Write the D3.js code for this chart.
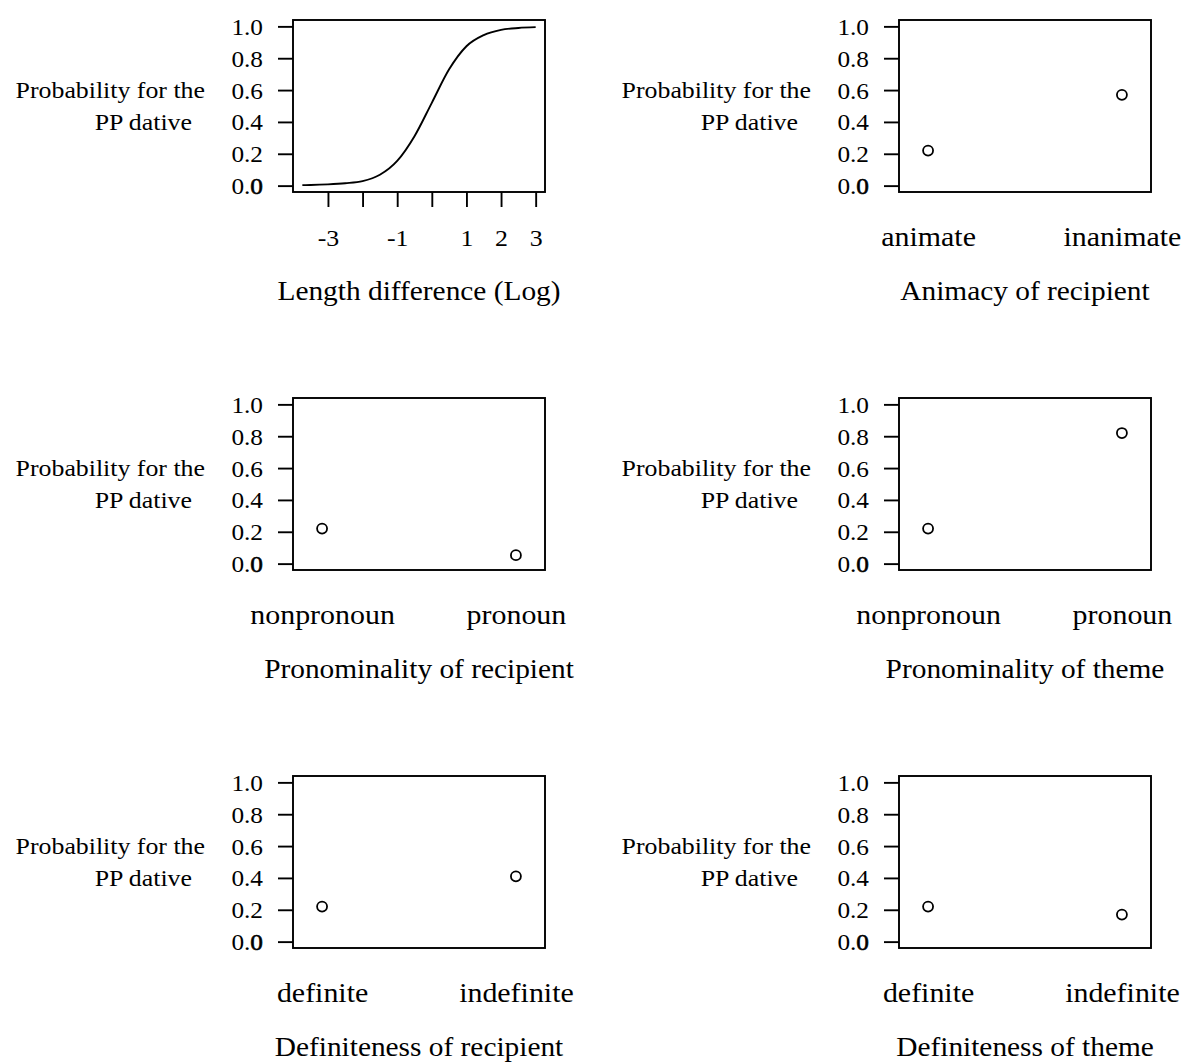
<!DOCTYPE html>
<html>
<head>
  <title>PP dative effects</title>
  <script src="https://d3js.org/d3.v7.min.js"></script>
  <style>
    body { margin: 0; background: #fff; }
    svg text { font-family: "Liberation Serif", "Times New Roman", serif; fill: #000; }
  </style>
</head>
<body>
  <script>
    // y axis ticks shared by all panels
    var yTicks = [0, 0.2, 0.4, 0.6, 0.8, 1.0];

    // panel 1: length difference curve
    var lengthX = [-3.74, -3.5, -3, -2.5, -2, -1.5, -1, -0.5, 0, 0.5, 1, 1.5, 2, 2.5, 3];
    var lengthP = [0.003, 0.004, 0.008, 0.015, 0.028, 0.068, 0.155, 0.31, 0.52, 0.73, 0.875, 0.945, 0.978, 0.99, 0.995];
    var lengthTicks = [-3, -2, -1, 0, 1, 2, 3];
    var lengthTickLabels = ["-3", "", "-1", "", "1", "2", "3"];

    // factor panels
    var animacyLevels = ["animate", "inanimate"];
    var animacyP = [0.22, 0.57];
    var pronRecLevels = ["nonpronoun", "pronoun"];
    var pronRecP = [0.22, 0.053];
    var pronThemeLevels = ["nonpronoun", "pronoun"];
    var pronThemeP = [0.22, 0.82];
    var defRecLevels = ["definite", "indefinite"];
    var defRecP = [0.22, 0.41];
    var defThemeLevels = ["definite", "indefinite"];
    var defThemeP = [0.22, 0.17];

    var yLabel = ["Probability for the", "PP dative"];

    var width = 1181, height = 1064;
    var colLeft = [293, 899], rowTop = [20, 398, 776];
    var pw = 252, ph = 172;
    var sx = 1.1; // the picture's lettering is a bit wide

    var svg = d3.select('body').append('svg')
      .attr('width', width)
      .attr('height', height);

    var y = d3.scaleLinear().domain([-0.04, 1.04]).range([ph, 0]);

    // text placed at (x, y), widened horizontally around its anchor
    function label(parent, x, yy, s, anchor, size) {
      return parent.append('text')
        .attr('transform', 'translate(' + x + ',' + yy + ') scale(' + sx + ',1)')
        .attr('text-anchor', anchor).attr('dy', '0.35em')
        .style('font-size', size + 'px')
        .text(s);
    }

    // restyle the labels an axis made: move position into a transform
    function widen(sel, size, dx, dy) {
      sel.attr('font-size', null).attr('font-family', null)
        .style('font-size', size + 'px')
        .attr('x', 0).attr('y', 0).attr('dy', '0.35em')
        .attr('transform', 'translate(' + dx + ',' + dy + ') scale(' + sx + ',1)');
    }

    function panel(col, row, title) {
      var g = svg.append('g')
        .attr('transform', 'translate(' + colLeft[col] + ',' + rowTop[row] + ')');

      // y axis
      var ya = g.append('g').call(d3.axisLeft(y)
        .tickValues(yTicks).tickFormat(d3.format('.1f'))
        .tickSize(15).tickPadding(15));
      ya.select('.domain').remove();
      ya.selectAll('line').attr('stroke', '#000').attr('stroke-width', 1.9);
      widen(ya.selectAll('text'), 23, -30, 0);
      // R overprints the zero label
      ya.selectAll('.tick').filter(function(d) { return d === 0; }).select('text')
        .text('0.').append('tspan').text('0').attr('stroke', '#000').attr('stroke-width', 0.6);

      // y title, two lines
      label(g, -88, y(0.6), yLabel[0], 'end', 23.5);
      label(g, -101, y(0.4), yLabel[1], 'end', 23.5);

      // x title
      label(g, pw / 2, ph + 99, title, 'middle', 26.7);

      // box
      g.append('rect').attr('width', pw).attr('height', ph)
        .attr('fill', 'none').attr('stroke', '#000').attr('stroke-width', 1.9);
      return g;
    }

    // panel 1: continuous predictor
    (function() {
      var g = panel(0, 0, 'Length difference (Log)');
      var ext = d3.extent(lengthX), pad = 0.04 * (ext[1] - ext[0]);
      var x = d3.scaleLinear().domain([ext[0] - pad, ext[1] + pad]).range([0, pw]);

      var xa = g.append('g').attr('transform', 'translate(0,' + ph + ')')
        .call(d3.axisBottom(x).tickValues(lengthTicks)
          .tickFormat(function(d, i) { return lengthTickLabels[i]; })
          .tickSize(15).tickPadding(0));
      xa.select('.domain').remove();
      xa.selectAll('line').attr('stroke', '#000').attr('stroke-width', 1.9);
      widen(xa.selectAll('text'), 23.5, 0, 46);

      var line = d3.line()
        .x(function(d, i) { return x(lengthX[i]); })
        .y(function(d) { return y(d); })
        .curve(d3.curveMonotoneX);
      g.append('path').datum(lengthP)
        .attr('d', line)
        .attr('fill', 'none').attr('stroke', '#000').attr('stroke-width', 1.9);
    })();

    // factor panels
    function factorPanel(col, row, title, levels, probs) {
      var g = panel(col, row, title);
      var x = d3.scalePoint().domain(levels).range([0, pw]).padding(0.15);

      var xa = g.append('g').attr('transform', 'translate(0,' + ph + ')')
        .call(d3.axisBottom(x).tickSize(0).tickPadding(0));
      xa.select('.domain').remove();
      widen(xa.selectAll('text'), 27.2, 0, 44);

      g.selectAll('circle.pt').data(levels).enter().append('circle')
        .attr('class', 'pt')
        .attr('cx', function(d) { return x(d); })
        .attr('cy', function(d, i) { return y(probs[i]); })
        .attr('r', 5)
        .attr('fill', 'none').attr('stroke', '#000').attr('stroke-width', 1.8);
    }

    factorPanel(1, 0, 'Animacy of recipient', animacyLevels, animacyP);
    factorPanel(0, 1, 'Pronominality of recipient', pronRecLevels, pronRecP);
    factorPanel(1, 1, 'Pronominality of theme', pronThemeLevels, pronThemeP);
    factorPanel(0, 2, 'Definiteness of recipient', defRecLevels, defRecP);
    factorPanel(1, 2, 'Definiteness of theme', defThemeLevels, defThemeP);
  </script>
</body>
</html>
